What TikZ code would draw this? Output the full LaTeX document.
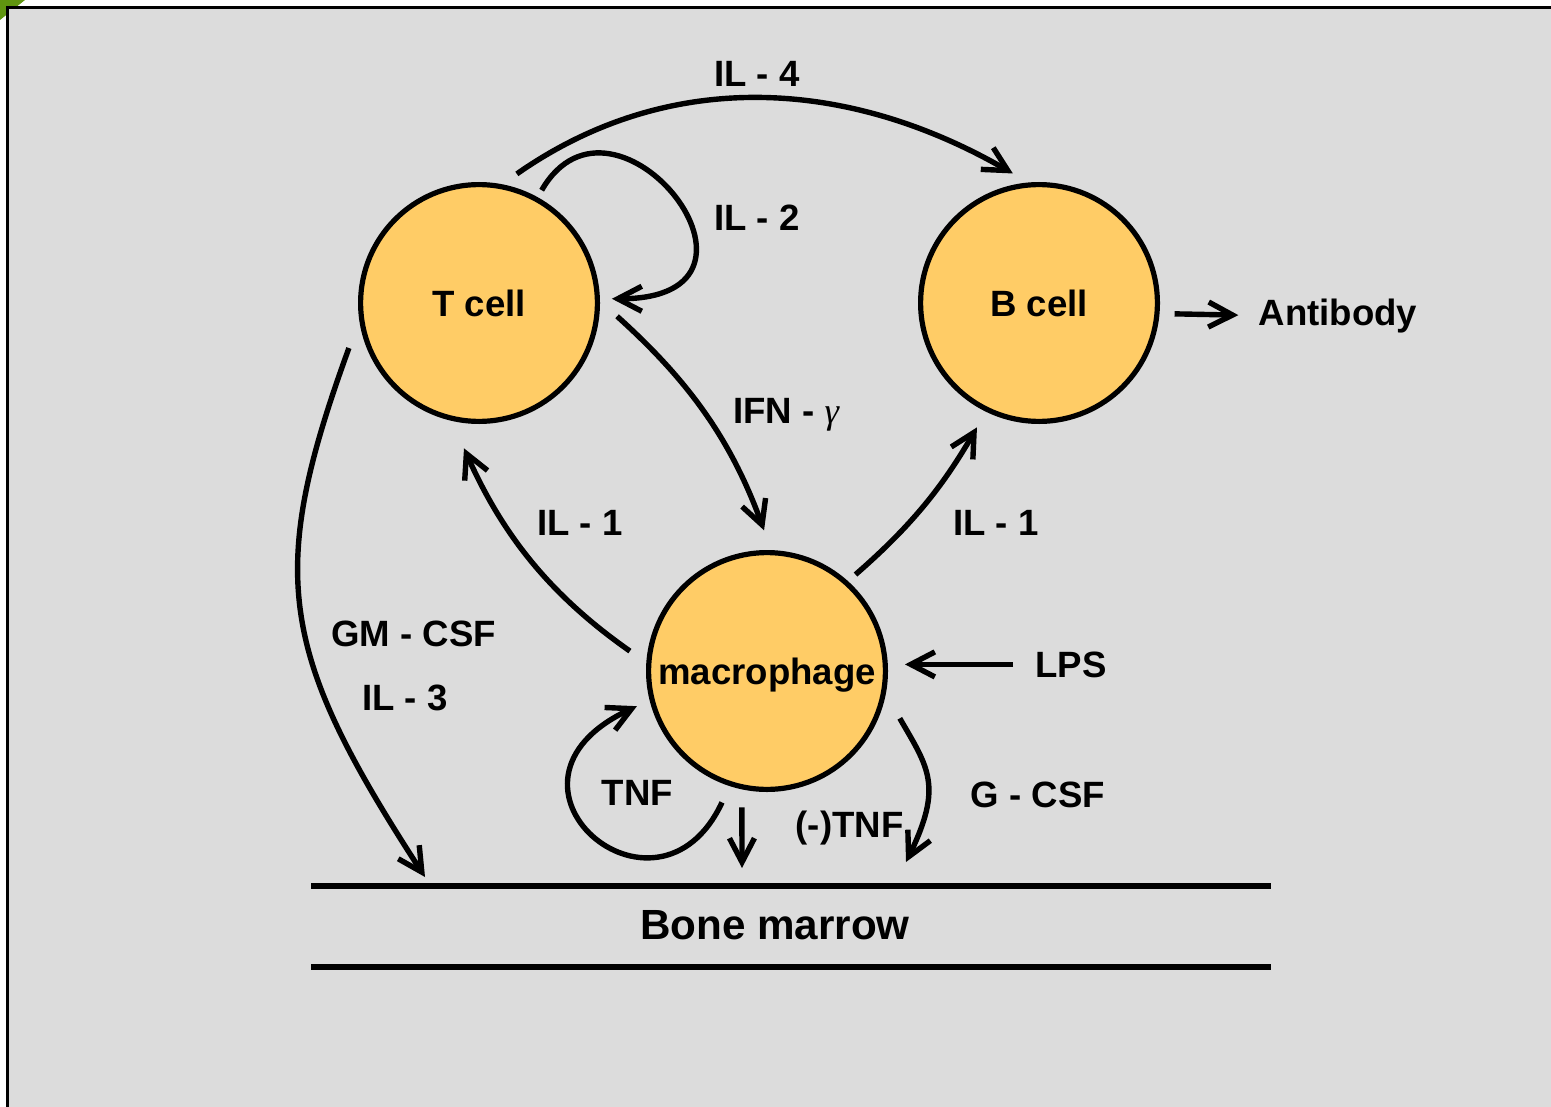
\documentclass[tikz,border=0pt]{standalone}
\usepackage{fontspec}
\setmainfont{Liberation Sans}
\newfontfamily\greekfont{Liberation Serif}
\usetikzlibrary{arrows.meta}
\definecolor{bggray}{RGB}{220,220,220}
\definecolor{cellfill}{RGB}{255,204,102}
\definecolor{cornergreen}{RGB}{96,150,16}

\begin{document}
\begin{tikzpicture}
[every node/.style={inner sep=0pt},
 cell/.style={circle, minimum size=118.4pt, fill=cellfill, line width=2.6pt, draw=black, font=\fontsize{18.3}{22}\selectfont\bfseries},
 lbl/.style={anchor=base, font=\fontsize{18.3}{22}\selectfont\bfseries},
 conn/.style={line width=2.7pt, -{Straight Barb[length=12pt, width=12.5pt]}, color=black}]
\useasboundingbox (0pt, 0pt) rectangle (775.5pt, -553.5pt);
\fill [white] (0pt, 0pt) rectangle (775.5pt, -553.5pt);
\fill [cornergreen] (0pt, 0pt) -- (12.5pt, 0pt) -- (0pt, -10pt) -- cycle;
\draw [line width=1.5pt, fill=bggray] (3.75pt, -3.75pt) rectangle (790pt, -570pt);
\node (tcell) [cell] at (239.5pt, -151.5pt) {T cell};
\node (bcell) [cell] at (519.5pt, -151.5pt) {B cell};
\node (mac) [cell, text depth=0pt] at (383.5pt, -335.5pt) {macrophage};
\node (il4) [lbl] at (378.5pt, -43.5pt) {IL - 4};
\node (il2) [lbl] at (378.5pt, -115pt) {IL - 2};
\node (ifn) [lbl] at (393pt, -211.5pt) {IFN - {\greekfont\itshape\mdseries γ}};
\node (il1a) [lbl] at (290pt, -267.5pt) {IL - 1};
\node (il1b) [lbl] at (498pt, -267.5pt) {IL - 1};
\node (gmcsf) [lbl] at (206.75pt, -323pt) {GM - CSF};
\node (il3) [lbl] at (202.5pt, -355pt) {IL - 3};
\node (lps) [lbl] at (535.5pt, -338.5pt) {LPS};
\node (tnf) [lbl] at (318.75pt, -402.5pt) {TNF};
\node (ntnf) [lbl] at (424.75pt, -418.5pt) {(-)TNF};
\node (gcsf) [lbl] at (519pt, -403.5pt) {G - CSF};
\node (antibody) [lbl] at (669pt, -162.5pt) {Antibody};
\node (bone) [lbl, font=\fontsize{21.1}{25}\selectfont\bfseries] at (387.5pt, -469.5pt) {Bone marrow};
\coordinate (gmtip) at (212.5pt, -438.5pt);
\coordinate (downtip) at (371pt, -434pt);
\coordinate (gtip) at (453pt, -431pt);
\coordinate (bmtl) at (155.5pt, -443pt);
\coordinate (bmtr) at (635.5pt, -443pt);
\coordinate (bmbl) at (155.5pt, -483.5pt);
\coordinate (bmbr) at (635.5pt, -483.5pt);
\draw [line width=2.7pt] (bmtl) -- (bmtr);
\draw [line width=2.7pt] (bmbl) -- (bmbr);
\draw [conn, shorten <=9pt, shorten >=9pt] (tcell.79) to [out=35, in=150] (bcell.95);
\draw [conn, shorten <=4pt, shorten >=6pt] (tcell.61) to [out=60, in=0, out distance=77pt, in distance=100pt] (tcell.2);
\draw [conn, shorten <=11.5pt, shorten >=10.5pt] (tcell.1) to [out=-42, in=110] (mac.88);
\draw [conn, shorten <=10pt, shorten >=15pt] (mac.176) to [out=145, in=-66] (tcell.257);
\draw [conn, shorten <=5pt, shorten >=9pt] (mac.48) to [out=41, in=240] (bcell.244);
\draw [conn, shorten <=15pt] (tcell.188) to [out=250, in=123, distance=135pt] (gmtip);
\draw [conn, shorten <=9pt, shorten >=7pt] (mac.252) to [out=245, in=205, out distance=86pt, in distance=98pt] (mac.194);
\draw [conn, shorten <=9pt] (mac.258) -- (downtip);
\draw [conn, shorten <=14pt] (mac.349) to [out=-60, in=64, distance=42.5pt] (gtip);
\draw [conn, shorten <=7.5pt, shorten >=10pt] (bcell.355) -- (antibody.west);
\draw [conn, shorten <=11pt, shorten >=8.5pt] (lps.west) -- (lps.west -| mac.east);
\end{tikzpicture}
\end{document}
